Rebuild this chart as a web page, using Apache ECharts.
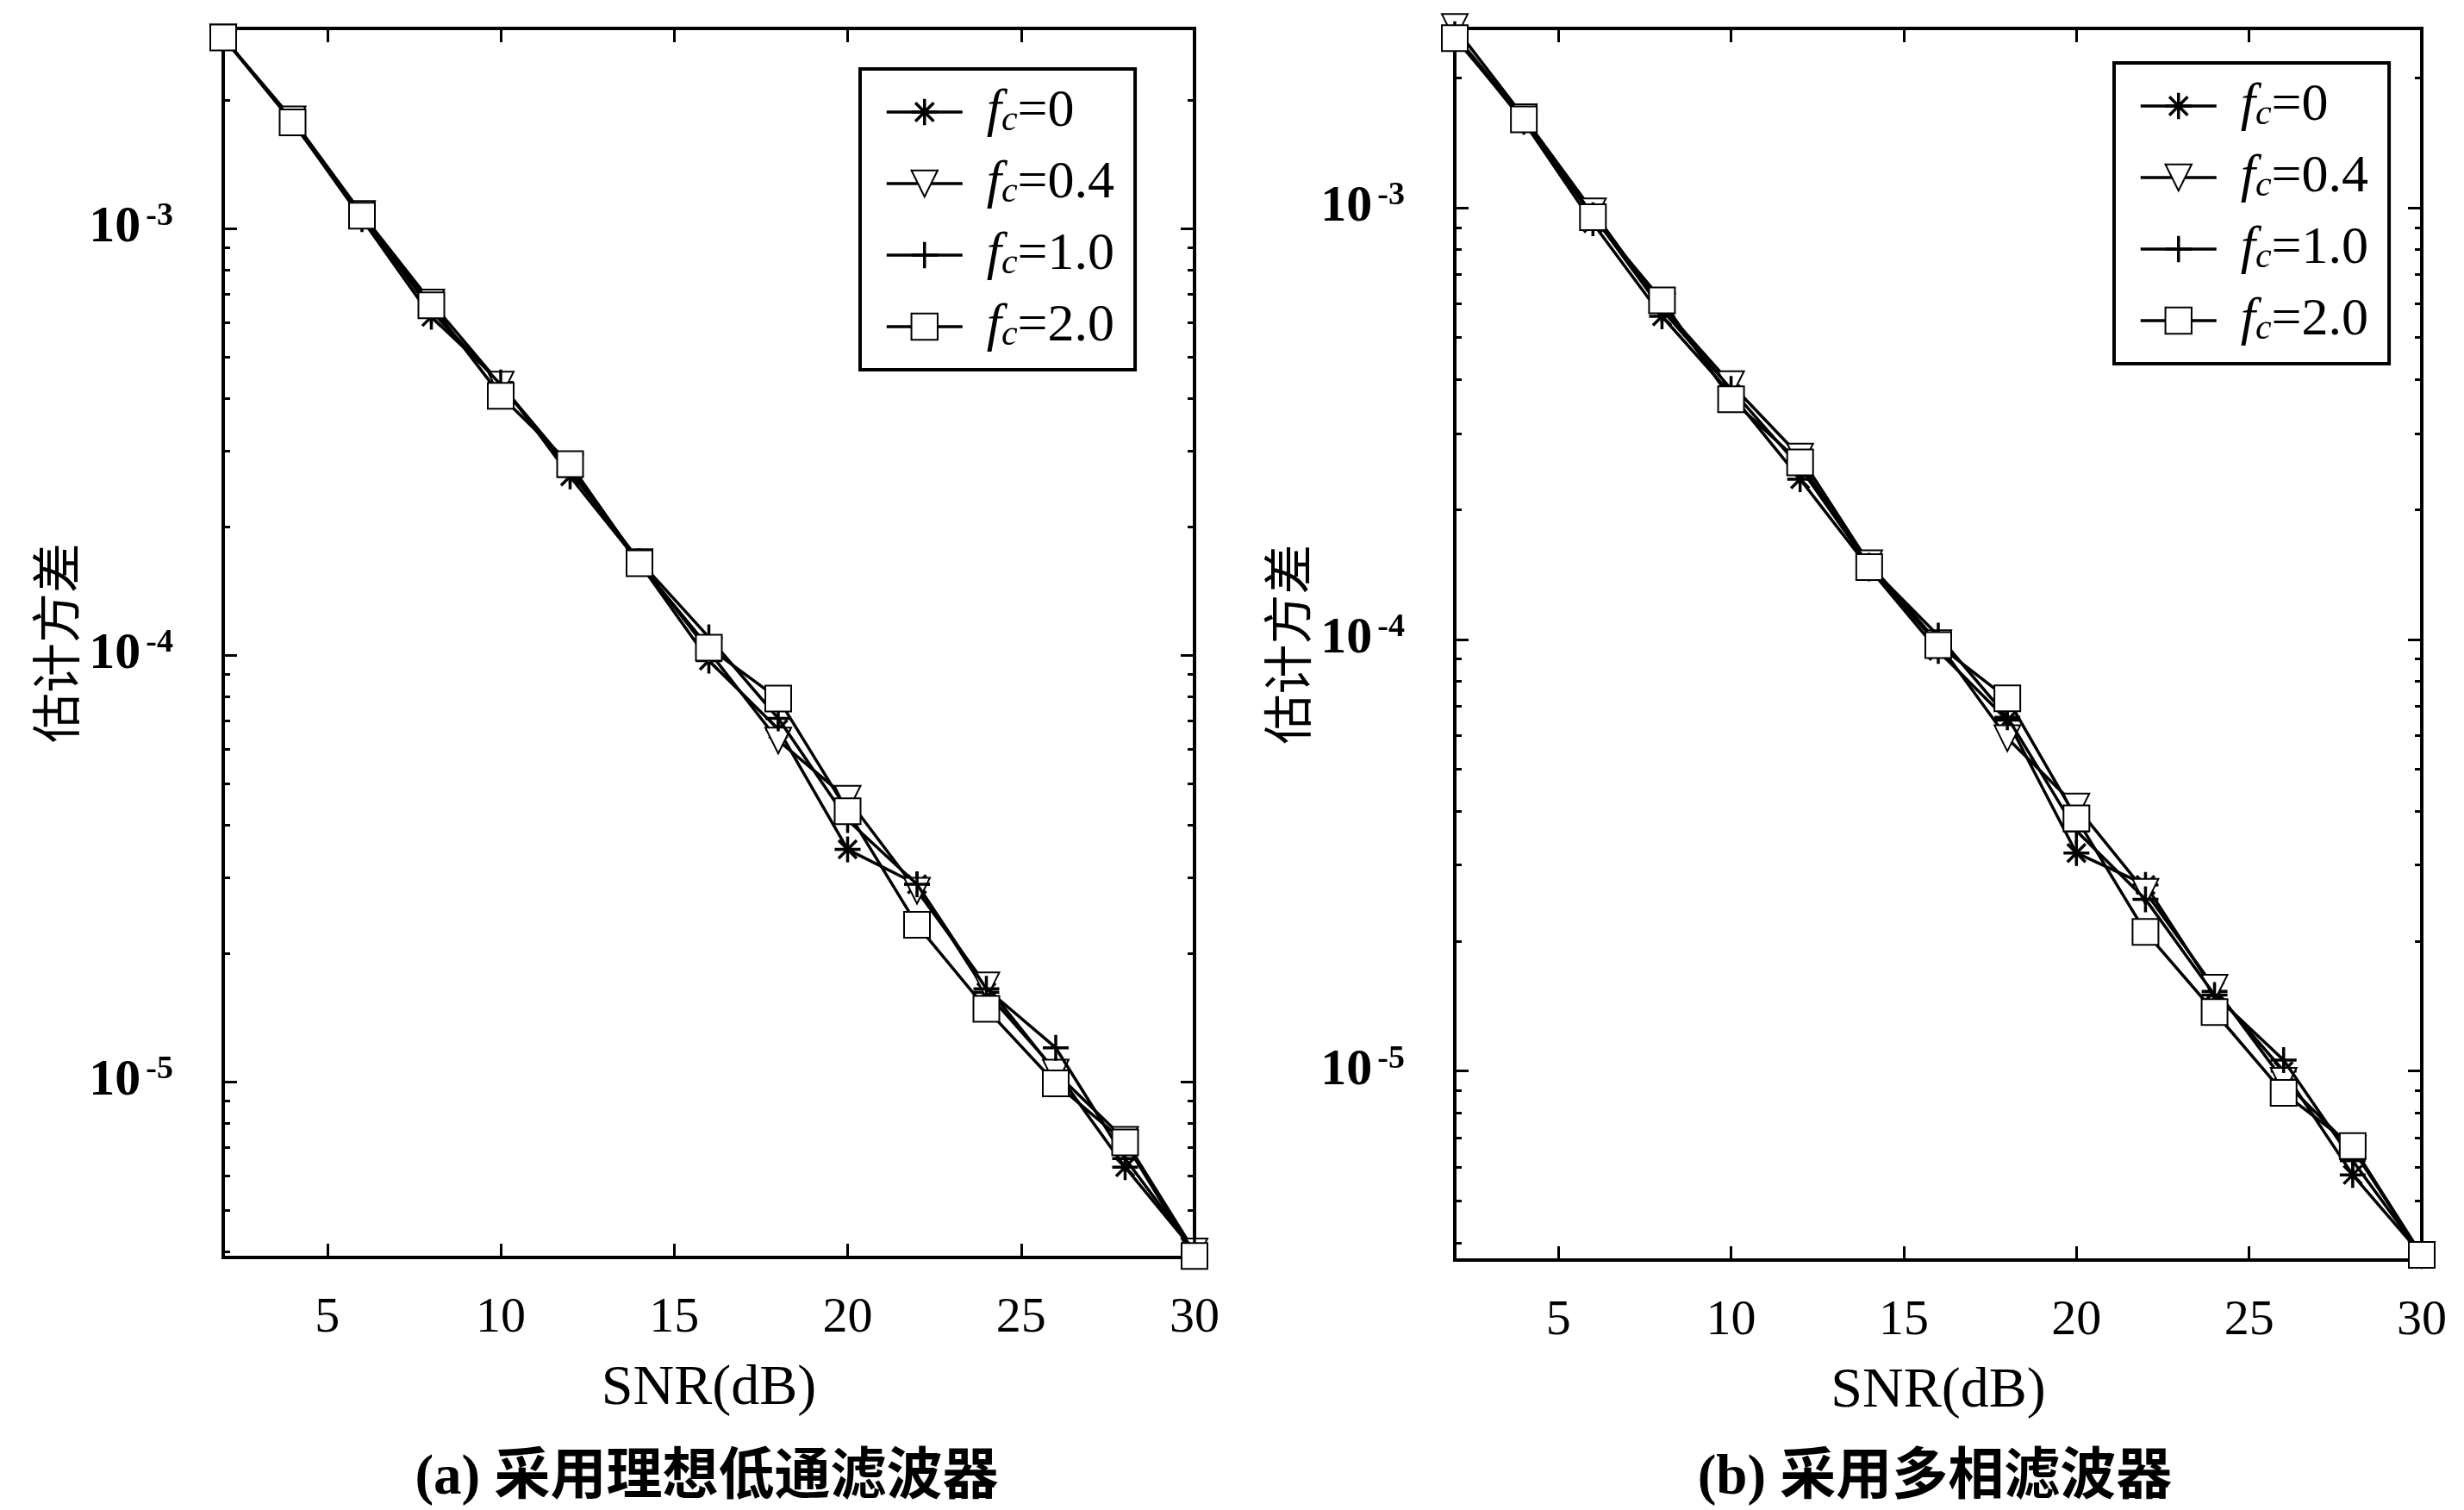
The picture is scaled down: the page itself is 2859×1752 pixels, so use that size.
<!DOCTYPE html>
<html><head><meta charset="utf-8">
<script src="https://cdn.jsdelivr.net/npm/echarts@6/dist/echarts.min.js"></script>
<style>html,body{margin:0;padding:0;background:#fff}#c{width:2859px;height:1752px}</style>
</head><body><div id="c"></div>
<script>
// ---- data ----
const snr = [2,4,6,8,10,12,14,16,18,20,22,24,26,28,30];
const seriesNames = ['f_c=0','f_c=0.4','f_c=1.0','f_c=2.0'];
const xTicks = [5,10,15,20,25,30];
const yTicks = [1e-5,1e-4,1e-3];
const yMinorTicks = [4e-6,5e-6,6e-6,7e-6,8e-6,9e-6,2e-5,3e-5,4e-5,5e-5,6e-5,7e-5,8e-5,9e-5,2e-4,3e-4,4e-4,5e-4,6e-4,7e-4,8e-4,9e-4,2e-3];
const xName = 'SNR(dB)';
const yName = '估计方差';
const captionA = '(a) 采用理想低通滤波器';
const captionB = '(b) 采用多相滤波器';
const rangeA = [3.87e-6, 2.94e-3];
const rangeB = [3.65e-6, 2.6e-3];

// (a) ideal low-pass filter
const a_fc0  = [2.80e-3,1.78e-3,1.05e-3,6.2e-4,4.35e-4,2.62e-4,1.64e-4,9.7e-5,6.7e-5,3.5e-5,2.9e-5,1.62e-5,1.06e-5,6.3e-6,4.0e-6];
const a_fc04 = [2.80e-3,1.80e-3,1.08e-3,6.7e-4,4.3e-4,2.75e-4,1.65e-4,1.02e-4,6.3e-5,4.6e-5,2.8e-5,1.68e-5,1.05e-5,7.3e-6,4.0e-6];
const a_fc10 = [2.80e-3,1.78e-3,1.07e-3,6.4e-4,4.3e-4,2.7e-4,1.66e-4,1.1e-4,7.1e-5,4.1e-5,2.9e-5,1.65e-5,1.2e-5,6.6e-6,4.0e-6];
const a_fc20 = [2.80e-3,1.77e-3,1.07e-3,6.6e-4,4.05e-4,2.8e-4,1.64e-4,1.04e-4,7.9e-5,4.3e-5,2.33e-5,1.48e-5,9.9e-6,7.2e-6,3.9e-6];
// (b) polyphase filter
const b_fc0  = [2.50e-3,1.58e-3,9.2e-4,5.6e-4,3.7e-4,2.35e-4,1.46e-4,9.4e-5,6.5e-5,3.2e-5,2.7e-5,1.53e-5,1.0e-5,5.75e-6,3.75e-6];
const b_fc04 = [2.62e-3,1.62e-3,9.8e-4,5.9e-4,3.9e-4,2.65e-4,1.5e-4,9.8e-5,5.9e-5,4.1e-5,2.6e-5,1.56e-5,9.5e-6,6.6e-6,3.75e-6];
const b_fc10 = [2.52e-3,1.60e-3,9.6e-4,5.8e-4,3.8e-4,2.5e-4,1.48e-4,1.02e-4,6.6e-5,3.6e-5,2.5e-5,1.5e-5,1.06e-5,6.2e-6,3.75e-6];
const b_fc20 = [2.47e-3,1.60e-3,9.5e-4,6.1e-4,3.6e-4,2.57e-4,1.47e-4,9.7e-5,7.3e-5,3.85e-5,2.1e-5,1.37e-5,8.9e-6,6.7e-6,3.75e-6];

// ---- chart ----
const SERIF = '"Liberation Serif","Times New Roman",serif';
const CJK = '"Noto Sans CJK SC",sans-serif';
const MIXED = '"Liberation Serif","Noto Sans CJK SC",serif';
const symbols = [
  {symbol:'path://M0,10L20,10M10,0L10,20M3,3L17,17M3,17L17,3', rotate:0},
  {symbol:'emptyTriangle', rotate:180},
  {symbol:'path://M0,10L20,10M10,0L10,20', rotate:0},
  {symbol:'emptyRect', rotate:0}
];
const grids = [
  {left:259, top:33, width:1127, height:1426},
  {left:1688, top:33, width:1122, height:1429}
];
const ranges = [rangeA, rangeB];
const dataSets = [[a_fc0,a_fc04,a_fc10,a_fc20],[b_fc0,b_fc04,b_fc10,b_fc20]];

const xAxes = [], yAxes = [], series = [];
const tickLS = {color:'#000', width:3};
grids.forEach((g, gi) => {
  xAxes.push({gridIndex:gi, type:'value', min:2, max:30, position:'bottom',
    axisLine:{show:false}, splitLine:{show:false},
    axisTick:{inside:true, length:16, customValues:xTicks, lineStyle:tickLS},
    axisLabel:{customValues:xTicks, margin:42, fontSize:58, fontFamily:SERIF, color:'#000'},
    name:xName, nameLocation:'middle', nameGap:120,
    nameTextStyle:{fontSize:66, fontFamily:SERIF, color:'#000'}});
  xAxes.push({gridIndex:gi, type:'value', min:2, max:30, position:'top',
    axisLine:{show:false}, splitLine:{show:false}, axisLabel:{show:false},
    axisTick:{inside:true, length:16, customValues:xTicks, lineStyle:tickLS}});
  const r = ranges[gi];
  yAxes.push({gridIndex:gi, type:'log', logBase:10, min:r[0], max:r[1], position:'left',
    axisLine:{show:false}, splitLine:{show:false}, minorTick:{show:false},
    axisTick:{inside:true, length:16, customValues:yTicks, lineStyle:tickLS},
    axisLabel:{customValues:yTicks, margin:58, color:'#000',
      formatter:v => { const e = Math.round(Math.log10(v)); return '{b|10}{s|' + (e<0?'-':'') + Math.abs(e) + '}'; },
      rich:{b:{fontSize:60, fontWeight:'bold', fontFamily:SERIF, lineHeight:66, color:'#000'},
            s:{fontSize:38, fontWeight:'bold', fontFamily:SERIF, lineHeight:34, verticalAlign:'top', padding:[0,0,0,6], color:'#000'}}},
    name:yName, nameLocation:'middle', nameRotate:90, nameGap:165,
    nameTextStyle:{fontSize:58, fontFamily:CJK, color:'#000'}});
  yAxes.push({gridIndex:gi, type:'log', logBase:10, min:r[0], max:r[1], position:'right',
    axisLine:{show:false}, splitLine:{show:false}, axisLabel:{show:false},
    axisTick:{inside:true, length:16, customValues:yTicks, lineStyle:tickLS}});
  yAxes.push({gridIndex:gi, type:'log', logBase:10, min:r[0], max:r[1], position:'left',
    axisLine:{show:false}, splitLine:{show:false}, axisLabel:{show:false},
    axisTick:{inside:true, length:8, customValues:yMinorTicks, lineStyle:tickLS}});
  yAxes.push({gridIndex:gi, type:'log', logBase:10, min:r[0], max:r[1], position:'right',
    axisLine:{show:false}, splitLine:{show:false}, axisLabel:{show:false},
    axisTick:{inside:true, length:8, customValues:yMinorTicks, lineStyle:tickLS}});
  dataSets[gi].forEach((arr, si) => {
    series.push({type:'line', name:seriesNames[si], xAxisIndex:gi*2, yAxisIndex:gi*4,
      data: snr.map((x,i) => [x, arr[i]]),
      symbol:symbols[si].symbol, symbolRotate:symbols[si].rotate, symbolSize:30,
      lineStyle:{color:'#000', width:3.5}, itemStyle:{color:'#000', borderColor:'#000', borderWidth:3.5},
      clip:false, silent:true, z:3+si});
  });
});

const legendFmt = name => '{i|f}{s|c}{n|' + name.slice(3) + '}';
const legendRich = {
  i:{fontSize:62, fontStyle:'italic', fontFamily:SERIF, lineHeight:62, padding:[0,0,0,23], color:'#000'},
  s:{fontSize:42, fontStyle:'italic', fontFamily:SERIF, lineHeight:16, verticalAlign:'bottom', color:'#000'},
  n:{fontSize:62, fontFamily:SERIF, lineHeight:62, color:'#000'}
};
const mkLegend = (left, top) => ({
  data:seriesNames, orient:'vertical', left, top, itemWidth:88, itemHeight:38, itemGap:21,
  padding:[19,24,19,29], borderColor:'#000', borderWidth:4, backgroundColor:'#fff',
  formatter:legendFmt, textStyle:{rich:legendRich, color:'#000'}, selectedMode:false,
  itemStyle:{borderWidth:3.5}, lineStyle:{width:3.5}
});

const chart = echarts.init(document.getElementById('c'), null, {renderer:'canvas'});
chart.setOption({
  backgroundColor:'#fff', animation:false,
  grid: grids.map(g => Object.assign({show:true, borderColor:'#000', borderWidth:4, backgroundColor:'transparent', containLabel:false}, g)),
  xAxis:xAxes, yAxis:yAxes, series,
  legend:[mkLegend(998,80), mkLegend(2453,73)],
  graphic:[
    {type:'text', x:820, y:1716, style:{text:captionA, fontSize:65, fontWeight:'bold', fontFamily:MIXED, fill:'#000', align:'center', verticalAlign:'middle'}},
    {type:'text', x:2245, y:1716, style:{text:captionB, fontSize:65, fontWeight:'bold', fontFamily:MIXED, fill:'#000', align:'center', verticalAlign:'middle'}}
  ]
});
</script></body></html>
